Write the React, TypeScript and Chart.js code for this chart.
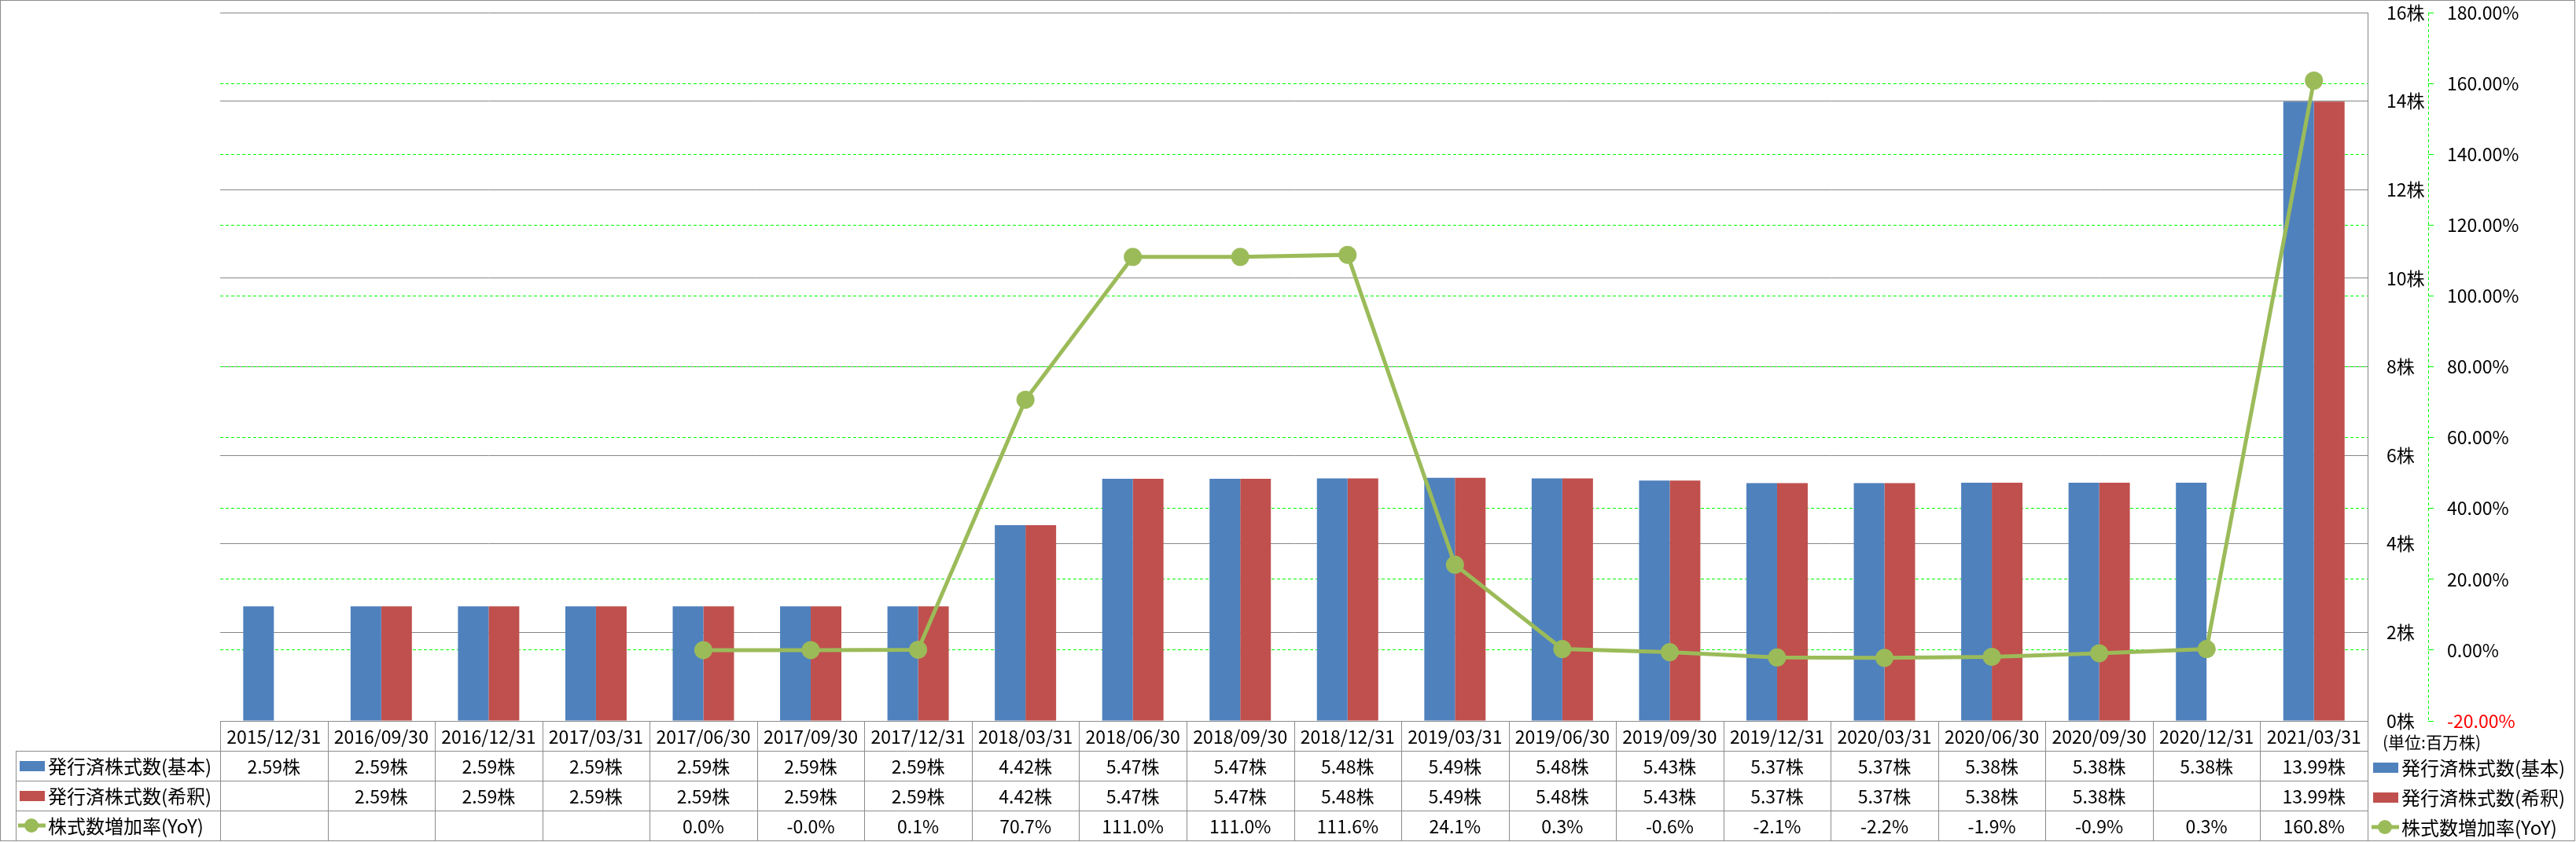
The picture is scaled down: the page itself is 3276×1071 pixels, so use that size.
import React, { useEffect, useRef } from 'react';
import { Chart, registerables } from 'chart.js';

Chart.register(...registerables);

// ---------- data ----------
const categories = [
  '2015/12/31', '2016/09/30', '2016/12/31', '2017/03/31', '2017/06/30',
  '2017/09/30', '2017/12/31', '2018/03/31', '2018/06/30', '2018/09/30',
  '2018/12/31', '2019/03/31', '2019/06/30', '2019/09/30', '2019/12/31',
  '2020/03/31', '2020/06/30', '2020/09/30', '2020/12/31', '2021/03/31',
];

const basicShares: (number | null)[] = [
  2.59, 2.59, 2.59, 2.59, 2.59, 2.59, 2.59, 4.42, 5.47, 5.47,
  5.48, 5.49, 5.48, 5.43, 5.37, 5.37, 5.38, 5.38, 5.38, 13.99,
];

const dilutedShares: (number | null)[] = [
  null, 2.59, 2.59, 2.59, 2.59, 2.59, 2.59, 4.42, 5.47, 5.47,
  5.48, 5.49, 5.48, 5.43, 5.37, 5.37, 5.38, 5.38, null, 13.99,
];

const growthRate: (number | null)[] = [
  null, null, null, null, 0.0, -0.01, 0.1, 70.7, 111.0, 111.0,
  111.6, 24.1, 0.3, -0.6, -2.1, -2.2, -1.9, -0.9, 0.3, 160.8,
];

const shareAxisMin = 0;
const shareAxisMax = 16;
const shareAxisStep = 2;
const rateAxisMin = -20;
const rateAxisMax = 180;
const rateAxisStep = 20;

const labelBasic = '発行済株式数(基本)';
const labelDiluted = '発行済株式数(希釈)';
const labelGrowth = '株式数増加率(YoY)';
const unitLabel = '(単位:百万株)';

// ---------- styles ----------
const W = 3276;
const H = 1071;
const FONT = '"Noto Sans CJK JP", "Noto Sans", sans-serif';
const BLUE = '#4F81BD';
const RED = '#C0504D';
const LINE_GREEN = '#9BBB59';
const GRID_GRAY = '#868686';
const DASH_GREEN = '#00FF00';
const TABLE_GRAY = '#8C8C8C';

const fmtShares = (v: number | null) => (v == null ? '' : v.toFixed(2) + '株');
const fmtRate = (v: number | null) => (v == null ? '' : v.toFixed(1) + '%');

const tablePlugin = {
  id: 'tableAndLegend',
  afterDraw(chart: any) {
    const { ctx, chartArea: ca, scales } = chart;
    const xs = scales.x;
    const y1 = scales.y1;
    const n = categories.length;
    const cw = (ca.right - ca.left) / n;
    const rowH = 38;
    const rows = [0, 1, 2, 3, 4].map((i) => ca.bottom + i * rowH);
    const legendLeft = 20;

    ctx.save();

    // dashed secondary axis line
    ctx.strokeStyle = DASH_GREEN;
    ctx.lineWidth = 1;
    ctx.setLineDash([4, 3]);
    ctx.beginPath();
    ctx.moveTo(Math.round(y1.left) + 0.5, ca.top);
    ctx.lineTo(Math.round(y1.left) + 0.5, ca.bottom);
    ctx.stroke();
    ctx.setLineDash([]);

    // table lines
    ctx.strokeStyle = TABLE_GRAY;
    ctx.lineWidth = 1;
    ctx.beginPath();
    const hl = (x1: number, x2: number, y: number) => {
      ctx.moveTo(x1, Math.round(y) + 0.5);
      ctx.lineTo(x2, Math.round(y) + 0.5);
    };
    const vl = (x: number, y1v: number, y2v: number) => {
      ctx.moveTo(Math.round(x) + 0.5, y1v);
      ctx.lineTo(Math.round(x) + 0.5, y2v);
    };
    hl(ca.left, ca.right, rows[0]);
    for (let r = 1; r <= 4; r++) hl(legendLeft, ca.right, rows[r]);
    for (let i = 0; i <= n; i++) vl(ca.left + i * cw, rows[0], rows[4]);
    vl(legendLeft, rows[1], rows[4]);
    ctx.stroke();

    // table texts
    ctx.fillStyle = '#000';
    ctx.textAlign = 'center';
    ctx.textBaseline = 'middle';
    ctx.font = `23px ${FONT}`;
    for (let i = 0; i < n; i++) {
      const cx = xs.getPixelForValue(i);
      ctx.fillText(categories[i], cx, (rows[0] + rows[1]) / 2 + 1);
      ctx.fillText(fmtShares(basicShares[i]), cx, (rows[1] + rows[2]) / 2 + 1);
      ctx.fillText(fmtShares(dilutedShares[i]), cx, (rows[2] + rows[3]) / 2 + 1);
      ctx.fillText(fmtRate(growthRate[i]), cx, (rows[3] + rows[4]) / 2 + 1);
    }

    // legends (left column inside table, and right side)
    const legendItems = [
      { label: labelBasic, kind: 'bar', color: BLUE },
      { label: labelDiluted, kind: 'bar', color: RED },
      { label: labelGrowth, kind: 'line', color: LINE_GREEN },
    ];
    const drawLegend = (x0: number, textX: number, dy: number) => {
      legendItems.forEach((it, k) => {
        const cy = (rows[k + 1] + rows[k + 2]) / 2 + dy;
        if (it.kind === 'bar') {
          ctx.fillStyle = it.color;
          ctx.fillRect(x0, cy - 6, 32, 13);
        } else {
          ctx.strokeStyle = it.color;
          ctx.lineWidth = 5;
          ctx.beginPath();
          ctx.moveTo(x0 - 2, cy);
          ctx.lineTo(x0 + 33, cy);
          ctx.stroke();
          ctx.fillStyle = it.color;
          ctx.beginPath();
          ctx.arc(x0 + 15, cy, 9, 0, Math.PI * 2);
          ctx.fill();
        }
        ctx.fillStyle = '#000';
        ctx.textAlign = 'left';
        ctx.textBaseline = 'middle';
        ctx.font = `24px ${FONT}`;
        ctx.fillText(it.label, textX, cy + 1);
      });
    };
    drawLegend(25, 61, 0);
    drawLegend(3018, 3054, 2);

    // unit label
    ctx.fillStyle = '#000';
    ctx.textAlign = 'left';
    ctx.textBaseline = 'middle';
    ctx.font = `21px ${FONT}`;
    ctx.fillText(unitLabel, 3030, 944);

    // outer border
    ctx.strokeStyle = TABLE_GRAY;
    ctx.lineWidth = 1;
    ctx.strokeRect(0.5, 0.5, W - 2, H - 2);

    ctx.restore();
  },
};

export default function App() {
  const canvasRef = useRef<HTMLCanvasElement | null>(null);

  useEffect(() => {
    const canvas = canvasRef.current;
    if (!canvas) return;
    Chart.defaults.font.family = FONT;

    const chart = new Chart(canvas, {
      type: 'bar',
      data: {
        labels: categories,
        datasets: [
          {
            type: 'line',
            label: labelGrowth,
            data: growthRate,
            yAxisID: 'y1',
            borderColor: LINE_GREEN,
            backgroundColor: LINE_GREEN,
            borderWidth: 5,
            pointRadius: 11.5,
            pointHoverRadius: 11.5,
            pointBorderWidth: 0,
            pointBackgroundColor: LINE_GREEN,
            tension: 0,
            order: 0,
          } as any,
          {
            type: 'bar',
            label: labelBasic,
            data: basicShares,
            yAxisID: 'y',
            backgroundColor: BLUE,
            categoryPercentage: 0.571,
            barPercentage: 1,
            order: 1,
          },
          {
            type: 'bar',
            label: labelDiluted,
            data: dilutedShares,
            yAxisID: 'y',
            backgroundColor: RED,
            categoryPercentage: 0.571,
            barPercentage: 1,
            order: 1,
          },
        ],
      },
      options: {
        responsive: false,
        maintainAspectRatio: false,
        animation: false,
        devicePixelRatio: 1,
        layout: { autoPadding: false, padding: { left: 280, right: 0, top: 16, bottom: 154 } },
        plugins: {
          legend: { display: false },
          tooltip: { enabled: false },
        },
        scales: {
          x: {
            display: false,
            offset: true,
            grid: { display: false },
          },
          y: {
            type: 'linear',
            position: 'right',
            min: shareAxisMin,
            max: shareAxisMax,
            afterFit: (s: any) => {
              s.width = 77;
              s.paddingTop = 0;
              s.paddingBottom = 0;
            },
            ticks: {
              stepSize: shareAxisStep,
              padding: 24,
              crossAlign: 'near',
              color: '#000',
              font: { size: 23, family: FONT },
              callback: (v: any) => `${v}株`,
            },
            grid: {
              color: GRID_GRAY,
              lineWidth: 1,
              drawTicks: false,
              drawOnChartArea: true,
            },
            border: { display: true, color: GRID_GRAY, width: 1 },
          },
          y1: {
            type: 'linear',
            position: 'right',
            min: rateAxisMin,
            max: rateAxisMax,
            afterFit: (s: any) => {
              s.width = 188;
              s.paddingTop = 0;
              s.paddingBottom = 0;
            },
            ticks: {
              stepSize: rateAxisStep,
              padding: 17,
              crossAlign: 'near',
              font: { size: 23, family: FONT },
              color: (c: any) => (c.tick && c.tick.value === rateAxisMin ? '#FF0000' : '#000'),
              callback: (v: any) => `${Number(v).toFixed(2)}%`,
            },
            grid: {
              color: (c: any) =>
                c.tick && (c.tick.value === rateAxisMin || c.tick.value === rateAxisMax)
                  ? 'rgba(0,0,0,0)'
                  : DASH_GREEN,
              tickColor: DASH_GREEN,
              tickLength: 7,
              lineWidth: 1,
              drawOnChartArea: true,
              drawTicks: true,
            },
            border: { display: false, dash: [4, 3] },
          },
        },
      } as any,
      plugins: [tablePlugin],
    });

    return () => {
      chart.destroy();
    };
  }, []);

  return (
    <div style={{ position: 'fixed', left: 0, top: 0, width: W, height: H, background: '#fff' }}>
      <canvas ref={canvasRef} width={W} height={H} style={{ display: 'block', width: W, height: H }} />
    </div>
  );
}
